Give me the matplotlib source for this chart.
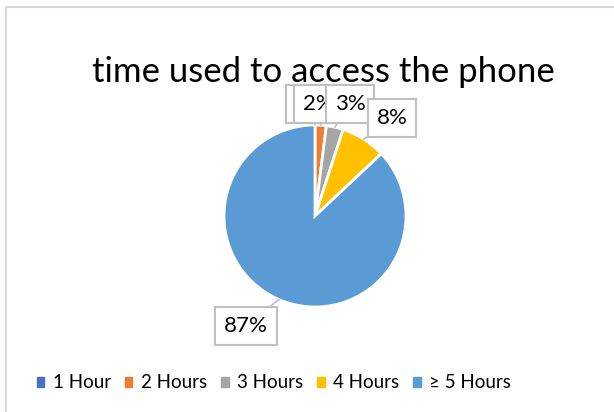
import numpy as np
import matplotlib
matplotlib.use("Agg")
import matplotlib.pyplot as plt
from matplotlib.patches import Rectangle

# data
categories = ["1 Hour", "2 Hours", "3 Hours", "4 Hours", "\u2265 5 Hours"]
shares = [0, 2, 3, 8, 87]
colors = ["#4472C4", "#ED7D31", "#A5A5A5", "#FFC000", "#5B9BD5"]
title = "time used to access the phone"

plt.rcParams['font.family'] = ['Lato', 'DejaVu Sans']

fig = plt.figure(figsize=(6.14, 4.12), dpi=100)
ax = fig.add_axes([0, 0, 1, 1])

# chart frame
ax.add_patch(Rectangle((6, -10), 640, 412 - 7 + 10, fill=False, edgecolor="#D9D9D9", lw=1.5))

cx, cy, r = 315, 196, 91
wedges, _ = ax.pie(shares, colors=colors, startangle=90, counterclock=False,
                   center=(cx, cy), radius=r, frame=True,
                   wedgeprops=dict(edgecolor="white", linewidth=2))
ax.set_xlim(0, 614)
ax.set_ylim(0, 412)
ax.set_aspect('equal')
ax.axis('off')

# callout label positions (text centres)
label_pos = [(310, 308), (318, 308), (350, 308), (392, 294), (246, 86)]
for w, v, (tx, ty) in zip(wedges, shares, label_pos):
    mid = np.deg2rad((w.theta1 + w.theta2) / 2)
    px, py = cx + r * np.cos(mid), cy + r * np.sin(mid)
    ax.annotate(f"{v}%", xy=(px, py), xytext=(tx, ty), ha="center", va="center",
                fontsize=16, color="#000000",
                bbox=dict(boxstyle="square,pad=0.4", fc="white", ec="#BFBFBF", lw=1.5),
                arrowprops=dict(arrowstyle="-", color="#BFBFBF", lw=1.2, shrinkA=0, shrinkB=0))

ax.text(323, 412 - 72, title, ha="center", va="center", fontsize=25, color="#000000")

handles = [Rectangle((0, 0), 1, 1, color=c) for c in colors]
fig.legend(handles, categories, loc="center", bbox_to_anchor=(274 / 614, 1 - 383 / 412),
           ncol=5, frameon=False, fontsize=13.5, handlelength=0.4, handleheight=0.4,
           handletextpad=0.45, columnspacing=0.75)

fig.savefig("out.png", dpi=100)
